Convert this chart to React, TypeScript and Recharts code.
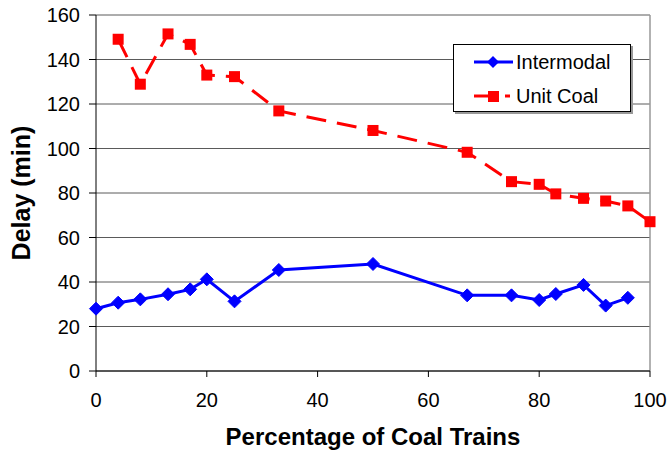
import React from "react";
import {
  CartesianGrid,
  Line,
  LineChart,
  ReferenceLine,
  XAxis,
  YAxis,
} from "recharts";

// ── Data ─────────────────────────────────────────────────────────────────────

const intermodalPct = [0, 4, 8, 13, 17, 20, 25, 33, 50, 67, 75, 80, 83, 88, 92, 96];
const intermodalDelay = [28, 30.7, 32.2, 34.5, 36.7, 41.2, 31.3, 45.4, 48.1, 34, 34, 31.9, 34.6, 38.7, 29.4, 32.9];

const unitCoalPct = [4, 8, 13, 17, 20, 25, 33, 50, 67, 75, 80, 83, 88, 92, 96, 100];
const unitCoalDelay = [149.1, 128.9, 151.5, 146.8, 133, 132.3, 116.9, 108.1, 98.3, 85.1, 83.9, 79.6, 77.6, 76.4, 74.2, 67.1];

const xTicks = [0, 20, 40, 60, 80, 100];
const yTicks = [0, 20, 40, 60, 80, 100, 120, 140, 160];

const intermodalData = intermodalPct.map((x, i) => ({ x, y: intermodalDelay[i] }));
const unitCoalData = unitCoalPct.map((x, i) => ({ x, y: unitCoalDelay[i] }));

const BLUE = "#0000ff";
const RED = "#ff0000";
const FONT = "'Liberation Sans', Arial, sans-serif";

// ── Markers ───────────────────────────────────────────────────────────────────

function Diamond(props: any) {
  const { cx, cy, index } = props;
  if (cx == null || cy == null) return null;
  const r = 6.5;
  return (
    <path
      key={`d-${index}`}
      d={`M${cx},${cy - r}L${cx + r},${cy}L${cx},${cy + r}L${cx - r},${cy}Z`}
      fill={BLUE}
      stroke={BLUE}
      strokeWidth={1}
    />
  );
}

function Square(props: any) {
  const { cx, cy, index } = props;
  if (cx == null || cy == null) return null;
  const s = 11;
  return <rect key={`s-${index}`} x={cx - s / 2} y={cy - s / 2} width={s} height={s} fill={RED} />;
}

// ── Legend (overlaid box, outside the chart's layout) ─────────────────────────

function LegendBox() {
  const row = { display: "flex", alignItems: "center", height: 34 } as const;
  return (
    <div
      style={{
        position: "absolute",
        left: 453,
        top: 44,
        width: 176,
        height: 66,
        border: "1px solid #000",
        background: "#fff",
        boxShadow: "2px 2px 0 #999",
        fontFamily: FONT,
        fontSize: 20,
        color: "#000",
      }}
    >
      <div style={row}>
        <svg width={60} height={20} style={{ marginLeft: 2 }}>
          <line x1={18} y1={10} x2={57} y2={10} stroke={BLUE} strokeWidth={3} />
          <path d="M37,4L43,10L37,16L31,10Z" fill={BLUE} />
        </svg>
        <span>Intermodal</span>
      </div>
      <div style={row}>
        <svg width={60} height={20} style={{ marginLeft: 2 }}>
          <line x1={18} y1={10} x2={34} y2={10} stroke={RED} strokeWidth={3} />
          <rect x={32} y={5} width={11} height={11} fill={RED} />
          <line x1={49} y1={10} x2={54} y2={10} stroke={RED} strokeWidth={3} />
        </svg>
        <span>Unit Coal</span>
      </div>
    </div>
  );
}

function YTitle(props: any) {
  const { viewBox } = props;
  const x = 21;
  const y = viewBox.y + viewBox.height / 2;
  return (
    <text
      x={x}
      y={y}
      transform={`rotate(-90 ${x} ${y})`}
      textAnchor="middle"
      dominantBaseline="central"
      fontFamily={FONT}
      fontSize={25}
      fontWeight="bold"
      fill="#000"
    >
      Delay (min)
    </text>
  );
}

export default function App() {
  return (
    <div style={{ position: "absolute", left: 0, top: 0, width: 668, height: 455, background: "#fff" }}>
      <LineChart
        width={668}
        height={455}
        margin={{ top: 15, right: 18, bottom: 0, left: 0 }}
      >
        <CartesianGrid vertical={false} stroke="#5a5a5a" strokeWidth={1} />
        <ReferenceLine x={100} stroke="#999" strokeWidth={1.5} ifOverflow="extendDomain" />
        <XAxis
          type="number"
          dataKey="x"
          domain={[0, 100]}
          ticks={xTicks}
          allowDuplicatedCategory={false}
          height={84}
          stroke="#000"
          tickSize={6}
          tickMargin={16}
          tick={{ fontSize: 20, fontFamily: FONT, fill: "#000" }}
          label={{
            value: "Percentage of Coal Trains",
            position: "insideBottom",
            offset: 10,
            fontSize: 24,
            fontWeight: "bold",
            fontFamily: FONT,
            fill: "#000",
          }}
        />
        <YAxis
          type="number"
          domain={[0, 160]}
          ticks={yTicks}
          width={96}
          stroke="#000"
          tickSize={7}
          tickMargin={9}
          tick={{ fontSize: 20, fontFamily: FONT, fill: "#000" }}
          label={<YTitle />}
        />
        <Line
          data={intermodalData}
          dataKey="y"
          name="Intermodal"
          stroke={BLUE}
          strokeWidth={3}
          dot={Diamond}
          activeDot={false}
          isAnimationActive={false}
        />
        <Line
          data={unitCoalData}
          dataKey="y"
          name="Unit Coal"
          stroke={RED}
          strokeWidth={3}
          strokeDasharray="20 11"
          dot={Square}
          activeDot={false}
          isAnimationActive={false}
        />
      </LineChart>
      <LegendBox />
    </div>
  );
}
